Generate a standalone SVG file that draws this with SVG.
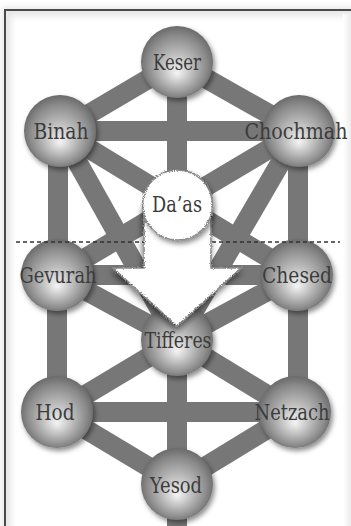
<svg xmlns="http://www.w3.org/2000/svg" width="351" height="526" viewBox="0 0 351 526">
  <defs>
    <radialGradient id="sph" cx="50%" cy="52%" r="52%" fx="50%" fy="66%">
      <stop offset="0" stop-color="#f4f4f4"/>
      <stop offset="0.45" stop-color="#b8b8b8"/>
      <stop offset="0.8" stop-color="#8a8a8a"/>
      <stop offset="1" stop-color="#6a6a6a"/>
    </radialGradient>
    <linearGradient id="rstrip" x1="0" y1="0" x2="1" y2="0">
      <stop offset="0" stop-color="#ffffff"/>
      <stop offset="1" stop-color="#ececec"/>
    </linearGradient>
    <filter id="shadow" x="-30%" y="-30%" width="160%" height="160%">
      <feDropShadow dx="2" dy="3" stdDeviation="2.5" flood-color="#000" flood-opacity="0.45"/>
    </filter>
    <filter id="ashadow" x="-30%" y="-30%" width="160%" height="160%">
      <feDropShadow dx="-1" dy="4" stdDeviation="3" flood-color="#000" flood-opacity="0.55"/>
    </filter>
    <filter id="rough" x="-10%" y="-10%" width="120%" height="120%">
      <feTurbulence type="fractalNoise" baseFrequency="0.9" numOctaves="2" seed="3" result="n"/>
      <feDisplacementMap in="SourceGraphic" in2="n" scale="3.5" xChannelSelector="R" yChannelSelector="G"/>
    </filter>
    <filter id="blur3" x="-5%" y="-5%" width="110%" height="110%">
      <feGaussianBlur stdDeviation="3"/>
    </filter>
    <clipPath id="inner"><rect x="6" y="11" width="345" height="515"/></clipPath>
    <style>
      .c { stroke: #777777; stroke-width: 20; stroke-linecap: butt; fill: none; }
      .s { fill: url(#sph); filter: url(#shadow); }
      .t { font-family: "DejaVu Serif", "Liberation Serif", serif; font-stretch: condensed; font-size: 22px; fill: #3c3c3c; text-anchor: middle; }
      .rough { fill: #ffffff; stroke: #8a8a8a; stroke-width: 1.6; filter: url(#rough); }
    </style>
  </defs>

  <!-- frame -->
  <g id="frame">
    <rect x="0" y="0" width="351" height="526" fill="#ffffff"/>
    <rect x="5" y="10" width="400" height="600" fill="none" stroke="#000" stroke-opacity="0.15" stroke-width="4" filter="url(#blur3)"/>
    <rect x="5" y="10" width="400" height="600" fill="#ffffff"/>
    <g clip-path="url(#inner)">
      <rect x="6" y="11" width="400" height="600" fill="none" stroke="#e6e6e6" stroke-width="10" filter="url(#blur3)"/>
      <rect x="343" y="14" width="8" height="512" fill="url(#rstrip)"/>
    </g>
    <rect x="5" y="10" width="400" height="600" fill="none" stroke="#4a4a4a" stroke-width="2"/>
  </g>

  <g id="connectors">
    <line class="c" x1="177" y1="62" x2="60" y2="131"/>
    <line class="c" x1="177" y1="62" x2="299" y2="131"/>
    <line class="c" x1="177" y1="62" x2="177" y2="340"/>
    <line class="c" x1="60" y1="131" x2="299" y2="131"/>
    <line class="c" x1="58" y1="131" x2="58" y2="275"/>
    <line class="c" x1="298" y1="131" x2="298" y2="275"/>
    <line class="c" x1="60" y1="131" x2="177" y2="340"/>
    <line class="c" x1="299" y1="131" x2="177" y2="340"/>
    <line class="c" x1="60" y1="131" x2="297" y2="275"/>
    <line class="c" x1="299" y1="131" x2="57" y2="275"/>
    <line class="c" x1="57" y1="275" x2="297" y2="275"/>
    <line class="c" x1="57" y1="275" x2="177" y2="340"/>
    <line class="c" x1="297" y1="275" x2="177" y2="340"/>
    <line class="c" x1="57" y1="275" x2="57" y2="412"/>
    <line class="c" x1="298" y1="275" x2="298" y2="412"/>
    <line class="c" x1="177" y1="340" x2="57" y2="412"/>
    <line class="c" x1="177" y1="340" x2="295" y2="412"/>
    <line class="c" x1="57" y1="412" x2="295" y2="412"/>
    <line class="c" x1="177" y1="340" x2="177" y2="484"/>
    <line class="c" x1="57" y1="412" x2="177" y2="484"/>
    <line class="c" x1="295" y1="412" x2="177" y2="484"/>
    <line class="c" x1="177" y1="484" x2="177" y2="530"/>
  </g>

  <g id="keser"><circle class="s" cx="177" cy="62" r="36"/><text class="t" x="177" y="70" textLength="48" lengthAdjust="spacingAndGlyphs">Keser</text></g>
  <g id="binah"><circle class="s" cx="60" cy="131" r="36"/><text class="t" x="61" y="139" textLength="55" lengthAdjust="spacingAndGlyphs">Binah</text></g>
  <g id="chochmah"><circle class="s" cx="299" cy="131" r="36"/><text class="t" x="296" y="139" textLength="103" lengthAdjust="spacingAndGlyphs">Chochmah</text></g>
  <g id="gevurah"><circle class="s" cx="57" cy="275" r="36"/><text class="t" x="58" y="283" textLength="77" lengthAdjust="spacingAndGlyphs">Gevurah</text></g>
  <g id="chesed"><circle class="s" cx="297" cy="275" r="36"/><text class="t" x="297" y="283" textLength="70" lengthAdjust="spacingAndGlyphs">Chesed</text></g>
  <g id="hod"><circle class="s" cx="57" cy="412" r="36"/><text class="t" x="55" y="420" textLength="39" lengthAdjust="spacingAndGlyphs">Hod</text></g>
  <g id="netzach"><circle class="s" cx="295" cy="412" r="36"/><text class="t" x="292" y="420" textLength="75" lengthAdjust="spacingAndGlyphs">Netzach</text></g>
  <g id="yesod"><circle class="s" cx="177" cy="484" r="36"/><text class="t" x="176" y="493" textLength="52" lengthAdjust="spacingAndGlyphs">Yesod</text></g>
  <g id="tifferes-sphere"><circle class="s" cx="177" cy="340" r="36"/></g>

  <g id="divider">
    <line x1="16" y1="242" x2="340" y2="242" stroke="#333" stroke-width="1.5" stroke-dasharray="4 3"/>
  </g>

  <g id="arrow" filter="url(#ashadow)">
    <path class="rough" d="M144,205 L211,205 L211,268 L241,268 L177,326 L113,268 L144,268 Z"/>
  </g>

  <g id="tifferes"><text class="t" x="178" y="348" textLength="67" lengthAdjust="spacingAndGlyphs">Tifferes</text></g>

  <g id="daas">
    <g filter="url(#shadow)">
      <circle class="rough" cx="177.5" cy="205" r="35"/>
    </g>
    <text class="t" x="177" y="212" textLength="50" lengthAdjust="spacingAndGlyphs">Da’as</text>
  </g>
</svg>
